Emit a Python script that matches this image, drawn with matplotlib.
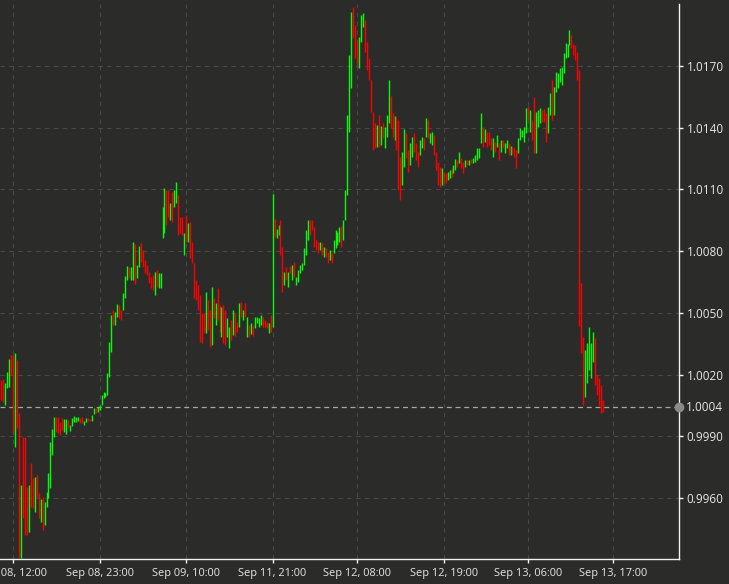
import matplotlib
matplotlib.use('Agg')
import matplotlib.pyplot as plt
import matplotlib.transforms as mtransforms
import numpy as np

# 15-minute bars, high / low per bar, G = up bar, R = down bar
highs = [
    # Sep 08 morning drop
    1.00174, 1.00179, 1.00159, 1.00213, 1.00276, 1.00296, 1.00296, 1.00305, 1.00271, 1.00014,
    0.99664, 0.99897, 0.99897, 0.99654, 0.99664, 0.99771, 0.99698, 0.99703, 0.99713, 0.99625,
    0.99596, 0.99606, 0.99581, 0.99630, 0.99722, 0.99873, 0.99936, 0.99994, 0.99994, 0.99994,
    0.99970, 0.99989, 0.99985, 0.99985, 0.99980, 0.99956, 0.99989, 0.99999, 0.99994, 0.99994,
    0.99989, 0.99994, 0.99975, 0.99989, 0.99989, 0.99985, 1.00004, 1.00038, 1.00038, 1.00043,
    1.00053,
    1.00102, 1.00116, 1.00111, 1.00208, 1.00359,
    # Sep 08 evening rally
    1.00490, 1.00514, 1.00505, 1.00544, 1.00539, 1.00514, 1.00597, 1.00679, 1.00728, 1.00723,
    1.00723, 1.00845, 1.00835, 1.00733, 1.00825, 1.00840, 1.00806, 1.00757, 1.00733, 1.00699,
    1.00675, 1.00685, 1.00699, 1.00709, 1.00694, 1.00694, 1.01015, 1.01107, 1.01098, 1.01098,
    1.01034, 1.01088, 1.01098, 1.01137, 1.01073, 1.00967, 1.00967, 1.00889, 1.00976, 1.00937,
    1.00942, 1.00845, 1.00743, 1.00660, 1.00636, 1.00587,
    # Sep 09 range
    1.00500, 1.00500, 1.00602, 1.00563, 1.00514, 1.00626, 1.00573, 1.00549, 1.00621, 1.00539,
    1.00529, 1.00539, 1.00514, 1.00476, 1.00432, 1.00466, 1.00514, 1.00500, 1.00457, 1.00549,
    1.00553, 1.00514, 1.00549, 1.00480, 1.00442, 1.00452, 1.00442, 1.00480, 1.00480, 1.00476,
    1.00490, 1.00480, 1.00466, 1.00457, 1.00452, 1.00490,
    # Sep 11 open gap
    1.01078,
    1.00957, 1.00908, 1.00928, 1.00952, 1.00821, 1.00699, 1.00723, 1.00699, 1.00728, 1.00733,
    1.00748, 1.00675, 1.00709, 1.00733,
    # Sep 12 spike
    1.00743, 1.00816, 1.00903, 1.00952, 1.00952, 1.00952, 1.00918, 1.00855, 1.00845, 1.00845,
    1.00840, 1.00821, 1.00816, 1.00796, 1.00806, 1.00792, 1.00855, 1.00903, 1.00894, 1.00918,
    1.00923, 1.00952, 1.01098, 1.01462, 1.01753, 1.01963, 1.01987, 1.01900, 1.01827, 1.01841,
    1.01948, 1.01958, 1.01924, 1.01817, 1.01739, 1.01632, 1.01477, 1.01423, 1.01414, 1.01462,
    1.01409, 1.01423, 1.01404, 1.01462, 1.01632, 1.01555, 1.01472, 1.01457, 1.01452, 1.01438,
    1.01258,
    # Sep 12 afternoon / evening
    1.01282, 1.01394, 1.01375, 1.01292, 1.01326, 1.01355, 1.01375, 1.01326, 1.01282, 1.01341,
    1.01355, 1.01350, 1.01448, 1.01438, 1.01375, 1.01379, 1.01365, 1.01282, 1.01234, 1.01209,
    1.01205, 1.01185, 1.01180, 1.01185, 1.01195, 1.01205, 1.01219, 1.01248, 1.01243, 1.01282,
    1.01253, 1.01234, 1.01243, 1.01243, 1.01243, 1.01248, 1.01253, 1.01268, 1.01302, 1.01302,
    1.01472, 1.01404, 1.01394, 1.01379, 1.01379, 1.01350, 1.01350, 1.01331, 1.01365, 1.01326,
    # Sep 13 climb and crash
    1.01341, 1.01341, 1.01326, 1.01341, 1.01326, 1.01311, 1.01307, 1.01302, 1.01292, 1.01350,
    1.01399, 1.01389, 1.01404, 1.01496, 1.01506, 1.01486, 1.01438, 1.01550, 1.01477, 1.01486,
    1.01496, 1.01486, 1.01491, 1.01472, 1.01501, 1.01569, 1.01632, 1.01598, 1.01671, 1.01666,
    1.01691, 1.01695, 1.01763, 1.01812, 1.01807, 1.01875, 1.01851, 1.01807, 1.01802, 1.01768,
    1.01681,
    1.00646, 1.00384, 1.00320, 1.00354, 1.00432, 1.00354, 1.00408, 1.00378, 1.00199, 1.00184,
    1.00150, 1.00077,
]

lows = [
    1.00077, 1.00067, 1.00053, 1.00135, 1.00140, 1.00198, 0.99917, 0.99849, 0.99941, 0.99314,
    0.99309, 0.99504, 0.99421, 0.99421, 0.99436, 0.99557, 0.99552, 0.99533, 0.99606, 0.99504,
    0.99484, 0.99446, 0.99469, 0.99557, 0.99601, 0.99649, 0.99810, 0.99897, 0.99922, 0.99917,
    0.99907, 0.99931, 0.99922, 0.99912, 0.99946, 0.99927, 0.99951, 0.99970, 0.99970, 0.99975,
    0.99965, 0.99965, 0.99956, 0.99970, 0.99975, 0.99975, 0.99975, 1.00009, 1.00014, 1.00019,
    1.00028,
    1.00053, 1.00087, 1.00092, 1.00102, 1.00189,
    1.00310, 1.00442, 1.00442, 1.00480, 1.00476, 1.00466, 1.00514, 1.00573, 1.00660, 1.00670,
    1.00660, 1.00660, 1.00641, 1.00670, 1.00723, 1.00748, 1.00723, 1.00694, 1.00685, 1.00646,
    1.00621, 1.00612, 1.00587, 1.00626, 1.00621, 1.00621, 1.00864, 1.00889, 1.00928, 1.00967,
    1.00952, 1.00942, 1.01015, 1.01034, 1.00879, 1.00889, 1.00879, 1.00782, 1.00845, 1.00845,
    1.00767, 1.00743, 1.00573, 1.00563, 1.00514, 1.00359,
    1.00354, 1.00403, 1.00403, 1.00417, 1.00335, 1.00344, 1.00476, 1.00442, 1.00466, 1.00408,
    1.00384, 1.00354, 1.00344, 1.00384, 1.00330, 1.00369, 1.00393, 1.00389, 1.00408, 1.00432,
    1.00480, 1.00466, 1.00480, 1.00384, 1.00384, 1.00398, 1.00389, 1.00427, 1.00452, 1.00432,
    1.00442, 1.00432, 1.00432, 1.00427, 1.00403, 1.00408,
    1.00432,
    1.00869, 1.00864, 1.00879, 1.00782, 1.00602, 1.00636, 1.00660, 1.00626, 1.00694, 1.00660,
    1.00675, 1.00636, 1.00651, 1.00694,
    1.00709, 1.00733, 1.00782, 1.00855, 1.00879, 1.00903, 1.00821, 1.00806, 1.00792, 1.00806,
    1.00782, 1.00772, 1.00772, 1.00743, 1.00757, 1.00743, 1.00792, 1.00816, 1.00830, 1.00845,
    1.00821, 1.00855, 1.00952, 1.01073, 1.01379, 1.01593, 1.01836, 1.01739, 1.01705, 1.01691,
    1.01817, 1.01890, 1.01768, 1.01681, 1.01632, 1.01477, 1.01292, 1.01302, 1.01307, 1.01307,
    1.01316, 1.01350, 1.01302, 1.01355, 1.01423, 1.01399, 1.01355, 1.01341, 1.01292, 1.01098,
    1.01049,
    1.01122, 1.01210, 1.01253, 1.01185, 1.01219, 1.01258, 1.01282, 1.01243, 1.01210, 1.01268,
    1.01302, 1.01292, 1.01355, 1.01350, 1.01326, 1.01316, 1.01268, 1.01195, 1.01122, 1.01112,
    1.01122, 1.01137, 1.01132, 1.01146, 1.01156, 1.01161, 1.01180, 1.01195, 1.01210, 1.01229,
    1.01205, 1.01180, 1.01210, 1.01219, 1.01219, 1.01229, 1.01229, 1.01234, 1.01243, 1.01253,
    1.01326, 1.01307, 1.01331, 1.01307, 1.01316, 1.01292, 1.01258, 1.01282, 1.01307, 1.01243,
    1.01282, 1.01302, 1.01278, 1.01302, 1.01268, 1.01268, 1.01278, 1.01258, 1.01205, 1.01278,
    1.01341, 1.01355, 1.01331, 1.01375, 1.01438, 1.01379, 1.01341, 1.01278, 1.01278, 1.01404,
    1.01423, 1.01428, 1.01428, 1.01331, 1.01375, 1.01462, 1.01438, 1.01462, 1.01574, 1.01593,
    1.01622, 1.01608, 1.01666, 1.01739, 1.01744, 1.01802, 1.01788, 1.01754, 1.01730, 1.01632,
    1.00437,
    1.00305, 1.00053, 1.00092, 1.00160, 1.00223, 1.00184, 1.00262, 1.00150, 1.00102, 1.00053,
    1.00014, 1.00019,
]

direction = (
    "RRGGGRRGRR" "GRRRGRRGRR" "GRGGGGGGRR" "RRGGRGGGGG" "RRGGRRGGRGG"
    "GGGGG"
    "GRGGRRGGGR" "GGRGGRRRRR" "RRGRGGGGRR" "GRGGRRRGRG" "RRRRRR"
    "RRGRRGRGRR" "GRRGGRGRRG" "RGRGRGRGGG" "GRRRGR"
    "G"
    "RGGRRGRGRGRGGG"
    "GGGGRRRRRG" "RGRRGRGGGG" "RGGGGGRRRG" "GGRRRRRRGR" "GRGGGRRGRRR"
    "GGRRGGRRRG" "GRGRGGRRRR" "GRRGGRGGRG" "RRGRGRGGGG" "GRGRRRGRGR"
    "GRGGRGRRRG" "GGGGRGRRGG" "GRRRGGRGGG" "GGGGGGRRRR" "R"
    "RRGGGGGRRRRR"
)

tick_pos = [6, 50, 94, 138, 181, 225, 268, 311]
tick_labels = ['Sep 08, 12:00', 'Sep 08, 23:00', 'Sep 09, 10:00', 'Sep 11, 21:00',
               'Sep 12, 08:00', 'Sep 12, 19:00', 'Sep 13, 06:00', 'Sep 13, 17:00']
price_ticks = [0.9960, 0.9990, 1.0020, 1.0050, 1.0080, 1.0110, 1.0140, 1.0170]
last_price = 1.0004

bg = '#2b2c2a'
fg = '#e6e6e6'
plt.rcParams['font.family'] = ['Open Sans', 'DejaVu Sans']

fig = plt.figure(figsize=(7.29, 5.84), dpi=100)
fig.patch.set_facecolor(bg)
ax = fig.add_axes([0, 25 / 584, 679 / 729, 555 / 584])
ax.set_facecolor(bg)
ax.set_axisbelow(True)

x = np.arange(len(highs))
cols = ['#00ff00' if d == 'G' else '#ff0000' for d in direction]
ax.vlines(x, lows, highs, colors=cols, linewidth=1.0, zorder=3)

ax.set_xlim(-0.66, 344.7)
ax.set_ylim(0.993035, 1.020014)

ax.yaxis.tick_right()
ax.set_yticks(price_ticks, ['%.4f' % p for p in price_ticks])
ax.set_xticks(tick_pos, tick_labels)
for side in ['left', 'top']:
    ax.spines[side].set_visible(False)
for side in ['right', 'bottom']:
    ax.spines[side].set_color('#f2f2f2')
    ax.spines[side].set_linewidth(1.0)
ax.tick_params(colors='#f2f2f2', labelcolor=fg, length=3, width=1, pad=2.5, labelsize=8.5)
ax.tick_params(axis='x', labelsize=7.9, pad=3.5)
ax.grid(True, color='#484946', linestyle=(0, (4, 4)), linewidth=0.8)

# last price line and marker
ax.axhline(last_price, color='#a5a5a5', linestyle=(0, (4, 3)), linewidth=0.9, zorder=2)
trans = mtransforms.blended_transform_factory(ax.transAxes, ax.transData)
ax.plot([1.0], [last_price], 'o', color='#8a8a8a', markersize=6, transform=trans,
        clip_on=False, zorder=5)
ax.annotate('%.4f' % last_price, xy=(1.0, last_price), xycoords=trans,
            xytext=(5.2, 0), textcoords='offset points', ha='left', va='center',
            color=fg, fontsize=8.5, annotation_clip=False)

fig.savefig('out.png', dpi=100, facecolor=bg)
